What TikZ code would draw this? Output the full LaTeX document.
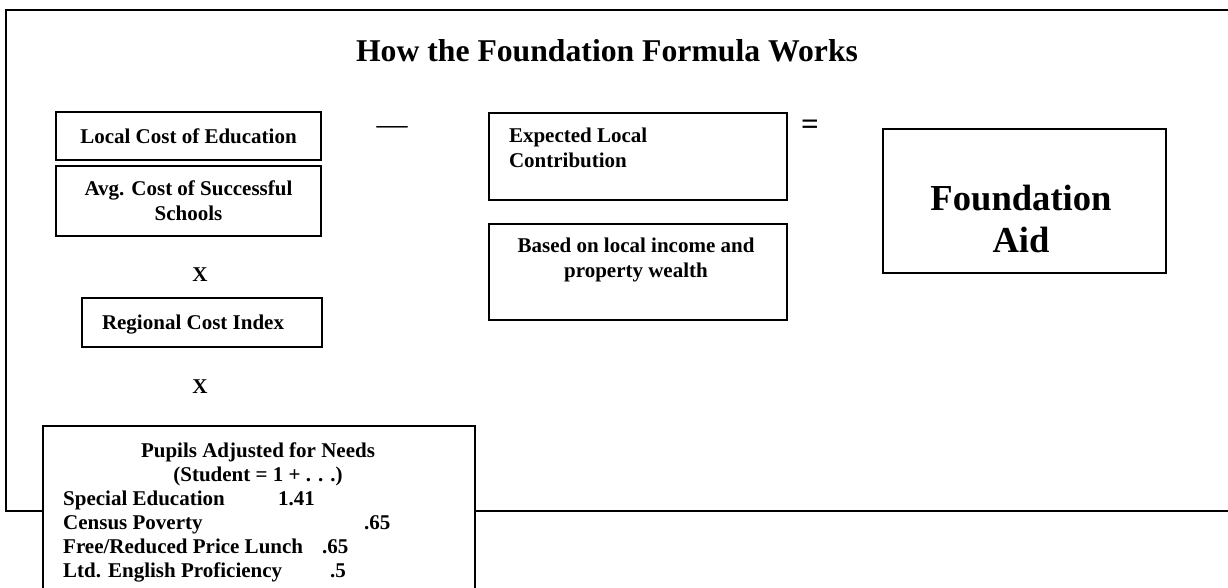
\documentclass[tikz,border=0pt]{standalone}
\usepackage{fontspec}
\setmainfont{Liberation Serif}
\usetikzlibrary{positioning}
\tikzset{
	box/.style={draw, line width=1.6pt, inner sep=0pt, anchor=north west},
	txt/.style={font=\fontsize{21}{25}\selectfont\bfseries, inner sep=0pt, outer sep=0pt},
	rowtxt/.style={font=\fontsize{21}{24.2}\selectfont\bfseries, inner sep=0pt, anchor=base west},
	sign/.style={font=\fontsize{31}{36}\selectfont, inner sep=0pt, anchor=base},
	frame/.style={line width=2.2pt}
}

\begin{document}
\begin{tikzpicture}[x=1pt,y=-1pt]
	\useasboundingbox (0,0) rectangle (1228,588);
	\clip (0,0) rectangle (1228,588);

	% Frame (open on the right)
	\draw[frame] (1240,10) -- (6,10) -- (6,511) -- (1240,511);

	% Title
	\node (title) [font=\fontsize{31.7}{36}\selectfont\bfseries, inner sep=0pt, anchor=base] at (607,62) {How the Foundation Formula Works};

	% Left column
	\node (local) [box, txt, minimum width=265pt, minimum height=48pt] at (56,112) {Local Cost of Education};
	\node (avg) [box, txt, align=center, minimum width=265pt, minimum height=70pt] at (56,166) {Avg. Cost of Successful\\Schools};
	\node (times1) [txt] at (200,275) {X};
	\node (region) [box, minimum width=240pt, minimum height=49pt] at (81,297) {};
	\node (region_txt) [txt, anchor=base west] at (102,329) {Regional Cost Index};
	\node (times2) [txt] at (200,387) {X};

	% Pupils
	\node (pupils) [box, fill=white, minimum width=432pt, minimum height=200pt] at (42,425) {};
	\node (pupils_txt) [txt, align=center, anchor=north, font=\fontsize{21}{23.5}\selectfont\bfseries] at (258,442.8) {Pupils Adjusted for Needs\\(Student = 1 + . . .)};
	\node (sped) [rowtxt] at (63,505) {Special Education};
	\node (sped_w) [rowtxt] at (278,505) {1.41};
	\node (pov) [rowtxt] at (63,529.5) {Census Poverty};
	\node (pov_w) [rowtxt] at (364,529.5) {.65};
	\node (lunch) [rowtxt] at (63,553.5) {Free/Reduced Price Lunch};
	\node (lunch_w) [rowtxt] at (322,553.5) {.65};
	\node (ell) [rowtxt] at (63,577.5) {Ltd. English Proficiency};
	\node (ell_w) [rowtxt] at (330,577.5) {.5};

	% Minus sign
	\node (minus) [sign] at (392,135) {—};

	% Middle column
	\node (expect) [box, minimum width=298pt, minimum height=87pt] at (488,112) {};
	\node (expect_txt) [txt, align=left, anchor=north west] at (509,127.8) {Expected Local\\Contribution};
	\node (based) [box, minimum width=298pt, minimum height=96pt] at (488,223) {};
	\node (based_txt) [txt, align=center, anchor=north] at (636,237.8) {Based on local income and\\property wealth};

	% Equals sign
	\node (equals) [sign, font=\fontsize{31}{36}\selectfont\bfseries] at (810,135) {=};

	% Result
	\node (aid) [box, minimum width=283pt, minimum height=144pt] at (882,128) {};
	\node (aid_txt) [align=center, anchor=north, inner sep=0pt, font=\fontsize{36.6}{42}\selectfont\bfseries] at (1021,185.3) {Foundation\\Aid};
\end{tikzpicture}
\end{document}
